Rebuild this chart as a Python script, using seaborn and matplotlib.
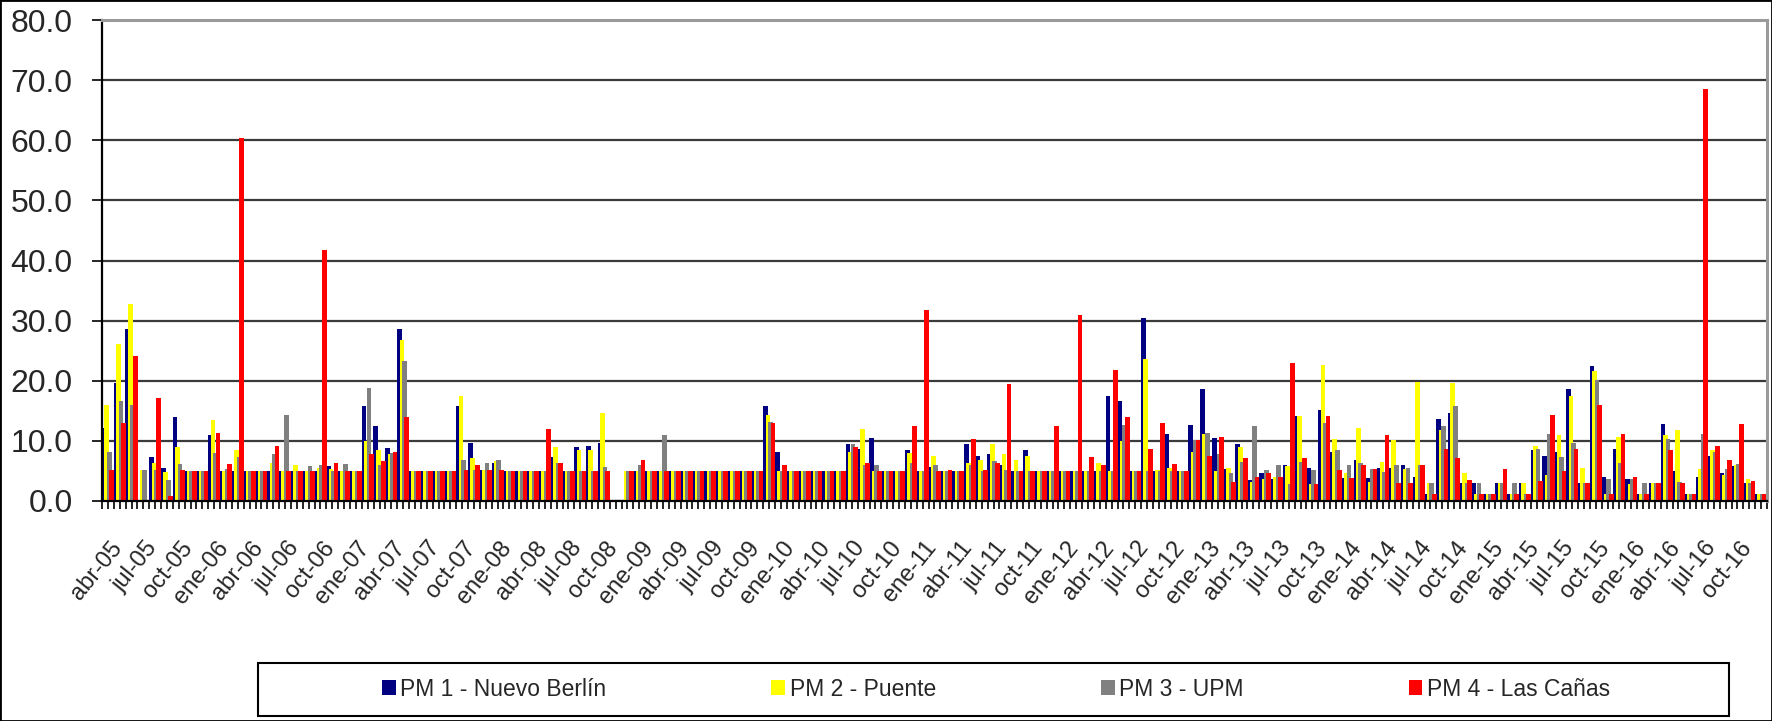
import numpy as np
import pandas as pd
import matplotlib
matplotlib.use("Agg")
import matplotlib.pyplot as plt
from matplotlib.patches import Rectangle, Patch
from matplotlib.ticker import FormatStrFormatter, MultipleLocator
from matplotlib.transforms import ScaledTranslation
from matplotlib import font_manager
import seaborn as sns

nan = np.nan

# --- Months abr-05 .. dic-16
meses = ['ene', 'feb', 'mar', 'abr', 'may', 'jun', 'jul', 'ago', 'sep', 'oct', 'nov', 'dic']
fechas = [f"{meses[m]}-{a:02d}" for a in range(5, 17) for m in range(12)][3:]

# --- Monthly values per station
pm1 = [12.1, 19.6, 28.6, nan, 7.3, 5.5, 13.9, 5.0, 5.0, 11.0,
       5.0, 5.0, 5.0, 5.0, 5.0, 5.0, 5.0, 5.0, 5.0, 5.8,
       5.0, 5.0, 15.8, 12.5, 8.8, 28.6, 5.0, 5.0, 5.0, 5.0,
       15.8, 9.6, 5.2, 6.4, 5.0, 5.0, 5.0, 5.0, 7.3, 5.0,
       9.0, 9.2, 9.6, nan, nan, 5.0, 5.0, 5.0, 5.0, 5.0,
       5.0, 5.0, 5.0, 5.0, 5.0, 5.0, 15.8, 8.1, 5.0, 5.0,
       5.0, 5.0, 5.0, 9.4, 8.6, 10.5, 5.0, 5.0, 8.4, 5.0,
       5.7, 5.0, 5.0, 9.4, 7.5, 7.8, 6.0, 5.0, 8.5, 5.0,
       5.0, 5.0, 5.0, 5.0, 5.0, 17.4, 16.7, 5.0, 30.5, 5.0,
       11.1, 5.0, 12.6, 18.6, 10.5, 5.4, 9.4, 3.5, 4.6, 3.7,
       6.0, 14.1, 5.5, 15.1, 8.1, 3.9, 6.8, 3.9, 5.5, 5.5,
       6.0, 4.0, 1.1, 13.7, 14.7, 3.0, 3.0, 1.1, 3.0, 1.1,
       3.0, 8.5, 7.5, 8.1, 18.6, 3.0, 22.4, 4.0, 8.6, 3.7,
       1.1, 3.0, 12.8, 5.0, 1.1, 4.0, 7.5, 4.7, 5.8, 3.0, 1.1]

pm2 = [16.0, 26.1, 32.7, 5.2, 6.3, 4.9, 9.0, 5.0, 5.0, 13.5,
       5.0, 8.4, 5.0, 5.0, 6.4, 5.0, 6.0, 5.0, 5.5, 5.4,
       5.0, 5.0, 9.9, 8.5, 7.8, 26.7, 5.0, 5.0, 5.0, 5.0,
       17.5, 7.1, 5.2, 6.7, 5.0, 5.0, 5.0, 5.0, 9.0, 5.0,
       8.5, 8.5, 14.6, nan, 5.0, 5.0, 5.0, 5.0, 5.0, 5.0,
       5.0, 5.0, 5.0, 5.0, 5.0, 5.0, 14.3, 5.0, 5.0, 5.0,
       5.0, 5.0, 5.0, 8.2, 11.9, 5.0, 5.0, 5.0, 8.0, 5.0,
       7.5, 5.0, 5.0, 6.4, 6.8, 9.4, 7.9, 6.8, 7.5, 5.0,
       5.0, 5.0, 5.0, 5.0, 6.3, 5.0, 9.9, 5.0, 23.7, 5.2,
       5.5, 5.0, 8.2, 11.1, 5.0, 5.5, 8.9, 3.2, 3.7, 4.0,
       5.9, 14.1, 2.9, 22.6, 10.3, 4.6, 12.2, 3.2, 6.5, 10.1,
       5.3, 19.8, 3.0, 11.8, 19.7, 4.6, 1.1, 1.1, 3.0, 1.1,
       3.0, 9.2, 4.3, 11.0, 17.4, 5.5, 21.6, 1.1, 10.7, 2.9,
       1.1, 3.0, 11.0, 11.8, 1.1, 5.4, 8.4, 4.3, 6.0, 3.7, 1.1]

pm3 = [8.1, 16.6, 16.0, 5.2, 5.2, 3.5, 6.1, 5.0, 5.0, 8.0,
       5.4, 7.3, 5.0, 5.0, 7.8, 14.3, 5.0, 5.8, 6.0, 5.0,
       6.1, 5.0, 18.8, 6.0, 8.0, 23.3, 5.0, 5.0, 5.0, 5.0,
       6.8, 5.2, 6.3, 6.8, 5.0, 5.0, 5.0, 5.0, 6.4, 5.0,
       5.0, 5.0, 5.7, nan, 5.0, 6.0, 5.0, 11.0, 5.0, 5.0,
       5.0, 5.0, 5.0, 5.0, 5.0, 5.0, 13.2, 5.0, 5.0, 5.0,
       5.0, 5.0, 5.0, 9.4, 6.0, 6.0, 5.0, 5.0, 6.3, 5.0,
       6.0, 5.0, 5.0, 6.0, 5.0, 6.7, 5.2, 5.0, 5.0, 5.0,
       5.0, 5.0, 5.0, 5.0, 5.0, 5.0, 12.6, 5.0, 5.0, 5.0,
       5.0, 5.0, 10.1, 11.3, 7.8, 4.6, 6.5, 12.5, 5.2, 6.0,
       2.9, 6.5, 5.2, 13.0, 8.4, 6.0, 6.4, 5.4, 4.9, 6.0,
       5.5, 6.0, 3.0, 12.5, 15.8, 3.0, 3.0, 1.1, 3.0, 3.0,
       1.1, 8.6, 11.1, 7.3, 9.6, 3.0, 20.1, 3.7, 6.3, 3.7,
       3.0, 3.0, 10.3, 3.2, 1.1, 11.1, 8.1, 5.4, 6.1, 3.0, 1.1]

pm4 = [5.2, 13.0, 24.1, nan, 17.1, 0.9, 5.2, 5.0, 5.0, 11.3,
       6.1, 60.4, 5.0, 5.0, 9.2, 5.0, 5.0, 5.0, 41.8, 6.4,
       5.0, 5.0, 7.8, 6.7, 8.2, 13.9, 5.0, 5.0, 5.0, 5.0,
       5.2, 6.0, 5.2, 5.2, 5.0, 5.0, 5.0, 12.0, 6.3, 5.0,
       5.0, 5.0, 5.0, nan, 5.0, 6.8, 5.0, 5.0, 5.0, 5.0,
       5.0, 5.0, 5.0, 5.0, 5.0, 5.0, 12.9, 6.0, 5.0, 5.0,
       5.0, 5.0, 5.0, 9.0, 6.3, 5.0, 5.0, 5.0, 12.5, 31.8,
       5.0, 5.2, 5.0, 10.3, 5.2, 6.4, 19.4, 5.0, 5.0, 5.0,
       12.5, 5.0, 30.9, 7.3, 6.0, 21.8, 13.9, 5.0, 8.6, 13.0,
       6.1, 5.0, 10.1, 7.5, 10.7, 3.1, 7.1, 4.0, 4.6, 4.0,
       23.0, 7.1, 2.9, 14.1, 5.2, 3.9, 6.0, 5.4, 11.0, 3.0,
       3.0, 6.0, 1.1, 8.6, 7.1, 3.5, 1.1, 1.1, 5.4, 1.1,
       1.1, 3.3, 14.3, 5.0, 8.6, 3.0, 15.9, 1.1, 11.1, 4.0,
       1.1, 3.0, 8.4, 3.0, 1.1, 68.6, 9.2, 6.8, 12.8, 3.4, 1.1]

series = ['PM 1 - Nuevo Berlín', 'PM 2 - Puente', 'PM 3 - UPM', 'PM 4 - Las Cañas']
colores = ['#000080', '#FFFF00', '#808080', '#FF0000']

df = pd.DataFrame({'mes': np.arange(len(fechas)),
                   series[0]: pm1, series[1]: pm2, series[2]: pm3, series[3]: pm4})

# --- Style
sns.set_style('white')
plt.rcParams['font.family'] = ['Liberation Sans', 'DejaVu Sans']

# condensed face for the slanted month labels, if it is installed
instaladas = {f.name for f in font_manager.fontManager.ttflist}
if 'Liberation Sans Narrow' in instaladas:
    fuente_meses, talla_meses = ['Liberation Sans Narrow', 'DejaVu Sans'], 20.5
else:
    fuente_meses, talla_meses = ['Liberation Sans', 'DejaVu Sans'], 17

fig = plt.figure(figsize=(17.72, 7.21), dpi=100)
ax = fig.add_axes([102 / 1772, 1 - 501 / 721, 1665 / 1772, 481 / 721])

# overlapping bars (Excel style): each series shifted inside the month slot
desplaz = [-0.315, -0.105, 0.105, 0.315]
for nombre, color, d in zip(series, colores, desplaz):
    sns.barplot(x=df['mes'] + d, y=df[nombre], native_scale=True, orient='x',
                width=0.40, color=color, saturation=1, errorbar=None,
                linewidth=0, ax=ax)

ax.set_xlim(-0.39, 140.47)
ax.set_ylim(0, 80)
ax.yaxis.set_major_locator(MultipleLocator(10))
ax.yaxis.set_major_formatter(FormatStrFormatter('%.1f'))
ax.set_xlabel('')
ax.set_ylabel('')

ax.set_xticks(range(0, len(fechas), 3))
ax.set_xticklabels(fechas[::3], rotation=51, ha='right', va='center',
                   rotation_mode='anchor', fontsize=talla_meses,
                   family=fuente_meses)
ax.set_xticks(np.arange(-0.5, len(fechas), 0.5), minor=True)
ax.tick_params(axis='x', which='both', direction='out', length=6, width=1.2,
               color='black', pad=25, bottom=True)
ax.tick_params(axis='y', direction='out', length=7, width=1.2, color='black',
               labelsize=23, pad=14, left=True)
desp = ScaledTranslation(10 / 100, 0, fig.dpi_scale_trans)
for lbl in ax.get_xticklabels():
    lbl.set_transform(lbl.get_transform() + desp)

ax.set_axisbelow(True)
ax.yaxis.grid(True, color='#3a3a3a', linewidth=1.6)
ax.xaxis.grid(False)
for lado in ['left', 'bottom']:
    ax.spines[lado].set_color('black')
    ax.spines[lado].set_linewidth(1.6)
for lado in ['top', 'right']:
    ax.spines[lado].set_color('#9a9a9a')
    ax.spines[lado].set_linewidth(2.2)

# --- Legend in a wide box under the chart
fig.add_artist(Rectangle((258 / 1772, 1 - 716 / 721), 1471 / 1772, 53 / 721,
                         transform=fig.transFigure, fill=False,
                         edgecolor='black', linewidth=1.5))
handles = [Patch(facecolor=c, edgecolor='none') for c in colores]
fig.legend(handles, series, loc='center', ncol=4,
           bbox_to_anchor=(996 / 1772, 1 - 689 / 721), frameon=False,
           fontsize=16.5, handlelength=0.6, handleheight=0.6,
           handletextpad=0.2, columnspacing=7.2)

# outer chart border
fig.add_artist(Rectangle((0, 0), 1, 1, transform=fig.transFigure, fill=False,
                         edgecolor='black', linewidth=2))

fig.savefig('out.png', dpi=100, facecolor='white')
